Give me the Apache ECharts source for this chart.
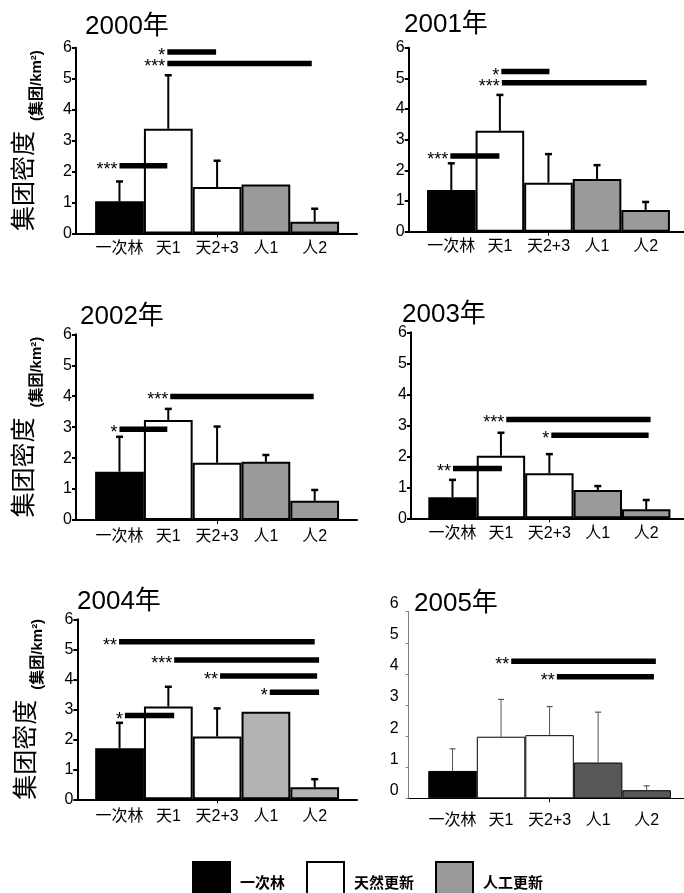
<!DOCTYPE html>
<html><head><meta charset="utf-8">
<script src="https://cdn.jsdelivr.net/npm/echarts@6/dist/echarts.min.js"></script>
<style>html,body{margin:0;padding:0;background:#fff}#c{width:684px;height:893px}</style>
</head><body><div id="c"></div>
<script>
// ---------- data ----------
const categories = ['一次林', '天1', '天2+3', '人1', '人2'];
const groupNames = ['一次林', '天然更新', '人工更新'];
const groupOfCategory = [0, 1, 1, 2, 2];
const years = ['2000年', '2001年', '2002年', '2003年', '2004年', '2005年'];

const mean2000 = [1.04, 3.38, 1.50, 1.58, 0.38];
const err2000  = [0.64, 1.73, 0.85, 0.00, 0.42];
const mean2001 = [1.36, 3.29, 1.60, 1.72, 0.71];
const err2001  = [0.87, 1.17, 0.93, 0.45, 0.26];
const mean2002 = [1.56, 3.23, 1.85, 1.88, 0.62];
const err2002  = [1.13, 0.36, 1.17, 0.22, 0.35];
const mean2003 = [0.68, 2.02, 1.45, 0.91, 0.29];
const err2003  = [0.56, 0.74, 0.62, 0.13, 0.30];
const mean2004 = [1.70, 3.09, 2.09, 2.92, 0.40];
const err2004  = [0.85, 0.66, 0.94, 0.00, 0.27];
const mean2005 = [0.88, 1.98, 2.03, 1.15, 0.26];
const err2005  = [0.71, 1.20, 0.92, 1.62, 0.14];

// significance bars: [from category, to category, height, number of stars]
const sig2000 = [[0.98, 1.98, 5.86, 1], [0.98, 3.94, 5.49, 3], [0.00, 0.98, 2.19, 3]];
const sig2001 = [[1.03, 2.02, 5.22, 1], [1.04, 4.02, 4.86, 3], [-0.02, 0.99, 2.47, 3]];
const sig2002 = [[1.04, 3.98, 3.99, 3], [0.00, 0.98, 2.93, 1]];
const sig2003 = [[1.11, 4.09, 3.19, 3], [2.04, 4.05, 2.68, 1], [0.01, 1.02, 1.61, 2]];
const sig2004 = [[-0.01, 4.00, 5.25, 2], [1.12, 4.09, 4.64, 3], [2.06, 4.05, 4.11, 2], [3.08, 4.09, 3.57, 1], [0.11, 1.12, 2.79, 1]];
const sig2005 = [[1.21, 4.19, 4.41, 2], [2.15, 4.15, 3.91, 2]];

const means = [mean2000, mean2001, mean2002, mean2003, mean2004, mean2005];
const errs = [err2000, err2001, err2002, err2003, err2004, err2005];
const sigs = [sig2000, sig2001, sig2002, sig2003, sig2004, sig2005];

// ---------- layout / style ----------
const FONT = '"Liberation Sans", "Noto Sans CJK SC", sans-serif';
const panels = [
  {left: 76,    top: 47.7,  right: 357, bottom: 233.5, xmin: -0.891, xmax: 4.867, bw: 48.75, tl: 85,  tt: 14,  xm: 7,  yName: true,  gray: '#9a9a9a', thin: false},
  {left: 408.7, top: 47.7,  right: 684, bottom: 231.7, xmin: -0.877, xmax: 4.79,  bw: 48.6,  tl: 404, tt: 12,  xm: 7,  yName: false, gray: '#9a9a9a', thin: false},
  {left: 76,    top: 334.3, right: 357, bottom: 520,   xmin: -0.891, xmax: 4.867, bw: 48.75, tl: 80,  tt: 304, xm: 9,  yName: true,  gray: '#9a9a9a', thin: false},
  {left: 411,   top: 332.3, right: 684, bottom: 518.3, xmin: -0.857, xmax: 4.78,  bw: 48.4,  tl: 402, tt: 302, xm: 7,  yName: false, gray: '#9a9a9a', thin: false},
  {left: 77.3,  top: 619.3, right: 357, bottom: 799.3, xmin: -0.866, xmax: 4.867, bw: 48.75, tl: 77,  tt: 589, xm: 9,  yName: true,  gray: '#b3b3b3', thin: false},
  {left: 408.7, top: 611.7, right: 684, bottom: 798.3, xmin: -0.903, xmax: 4.77,  bw: 48.5,  tl: 414, tt: 591, xm: 14, yName: false, gray: '#575757', thin: true}
];

const option = {
  backgroundColor: '#fff',
  animation: false,
  title: [], grid: [], xAxis: [], yAxis: [], series: [],
  legend: {
    left: 187, top: 856, itemWidth: 37, itemHeight: 44, itemGap: 21, icon: 'rect',
    selectedMode: false, data: groupNames,
    textStyle: {fontSize: 15, fontWeight: 'bold', fontFamily: FONT, color: '#000', padding: [0, 0, 0, 5]}
  }
};

panels.forEach((p, i) => {
  const lw = p.thin ? 1 : 2;
  option.title.push({
    text: years[i], left: p.tl, top: p.tt, padding: 0,
    textStyle: {fontSize: 26, fontWeight: 'normal', fontFamily: FONT, color: '#000'}
  });
  option.grid.push({
    left: p.left, top: p.top, width: p.right - p.left, height: p.bottom - p.top,
    containLabel: false, outerBoundsMode: 'none'
  });
  option.xAxis.push({
    type: 'value', gridIndex: i, min: p.xmin, max: p.xmax,
    splitLine: {show: false},
    axisLine: {show: true, onZero: false, lineStyle: {color: '#000', width: lw}},
    axisTick: {show: true, customValues: [2], length: 4, lineStyle: {color: '#000', width: 1}},
    axisLabel: {
      customValues: [0, 1, 2, 3, 4], margin: p.xm,
      formatter: v => categories[Math.round(v)] || '',
      fontSize: 16, fontFamily: FONT, color: '#000'
    }
  });
  const yAx = {
    type: 'value', gridIndex: i, min: 0, max: 6, interval: 1,
    splitLine: {show: false},
    axisLine: {show: true, onZero: false, lineStyle: {color: p.thin ? '#808080' : '#000', width: lw}},
    axisTick: {show: true, length: p.thin ? 3 : 4, lineStyle: {color: p.thin ? '#808080' : '#000', width: p.thin ? 1 : 2}},
    axisLabel: p.thin
      ? {fontSize: 16, fontFamily: FONT, color: '#000', margin: 10, verticalAlign: 'bottom', lineHeight: 16}
      : {fontSize: 16, fontFamily: FONT, color: '#000', margin: 4, verticalAlign: 'middle', lineHeight: 16, padding: [0, 0, 5, 0]}
  };
  if (p.yName) {
    yAx.name = '{a|集团密度}{b|(集团/km²)}';
    yAx.nameLocation = 'middle';
    yAx.nameRotate = 90;
    yAx.nameGap = 32;
    yAx.nameTextStyle = {
      rich: {
        a: {fontSize: 25, fontFamily: FONT, color: '#000', verticalAlign: 'bottom', padding: [0, 0, 6, 0]},
        b: {fontSize: 15, fontFamily: FONT, color: '#000', fontWeight: 'bold', verticalAlign: 'bottom', padding: [0, 0, 0, 10]}
      }
    };
  }
  option.yAxis.push(yAx);

  // bars: one series per group, overlapped at the category positions
  groupNames.forEach((g, gi) => {
    const data = [];
    categories.forEach((c, ci) => { if (groupOfCategory[ci] === gi) data.push([ci, means[i][ci]]); });
    option.series.push({
      type: 'bar', name: g, xAxisIndex: i, yAxisIndex: i,
      barWidth: p.bw, barGap: '-100%', data: data,
      itemStyle: {
        color: gi === 0 ? '#000' : (gi === 1 ? '#fff' : p.gray),
        borderColor: '#000', borderWidth: lw
      },
      emphasis: {disabled: true}, z: 2
    });
  });

  // error bars (upper only)
  option.series.push({
    type: 'custom', name: 'err' + i, xAxisIndex: i, yAxisIndex: i, z: 3, clip: false,
    encode: {x: 0, y: 1},
    data: categories.map((c, ci) => [ci, means[i][ci], errs[i][ci]]),
    renderItem: (params, api) => {
      const x = api.value(0), m = api.value(1), e = api.value(2);
      if (!(e > 0)) return null;
      const p0 = api.coord([x, m]), p1 = api.coord([x, m + e]);
      const col = p.thin ? '#555' : '#000';
      const cw = p.thin ? 6 : 7;
      return {type: 'group', children: [
        {type: 'line', shape: {x1: p0[0], y1: p0[1], x2: p1[0], y2: p1[1]}, style: {stroke: col, lineWidth: p.thin ? 1 : 2}},
        {type: 'line', shape: {x1: p1[0] - cw / 2, y1: p1[1], x2: p1[0] + cw / 2, y2: p1[1]}, style: {stroke: col, lineWidth: p.thin ? 1.2 : 2.5}}
      ]};
    }
  });

  // significance bars with asterisks
  option.series.push({
    type: 'custom', name: 'sig' + i, xAxisIndex: i, yAxisIndex: i, z: 4, clip: false,
    encode: {x: [0, 2], y: 1},
    data: sigs[i].map(s => [s[0], s[2], s[1], s[3]]),
    renderItem: (params, api) => {
      const x1 = api.value(0), y = api.value(1), x2 = api.value(2), n = api.value(3);
      const a = api.coord([x1, y]), b = api.coord([x2, y]);
      const h = 5.5;
      return {type: 'group', children: [
        {type: 'rect', shape: {x: a[0], y: a[1] - h / 2, width: b[0] - a[0], height: h}, style: {fill: '#000'}},
        {type: 'text', x: a[0] - 2, y: a[1] + 4, style: {text: '*'.repeat(n), align: 'right', verticalAlign: 'middle', fontSize: 18, fontFamily: FONT, fill: '#000'}}
      ]};
    }
  });
});

const chart = echarts.init(document.getElementById('c'), null, {renderer: 'canvas'});
chart.setOption(option);
</script></body></html>
